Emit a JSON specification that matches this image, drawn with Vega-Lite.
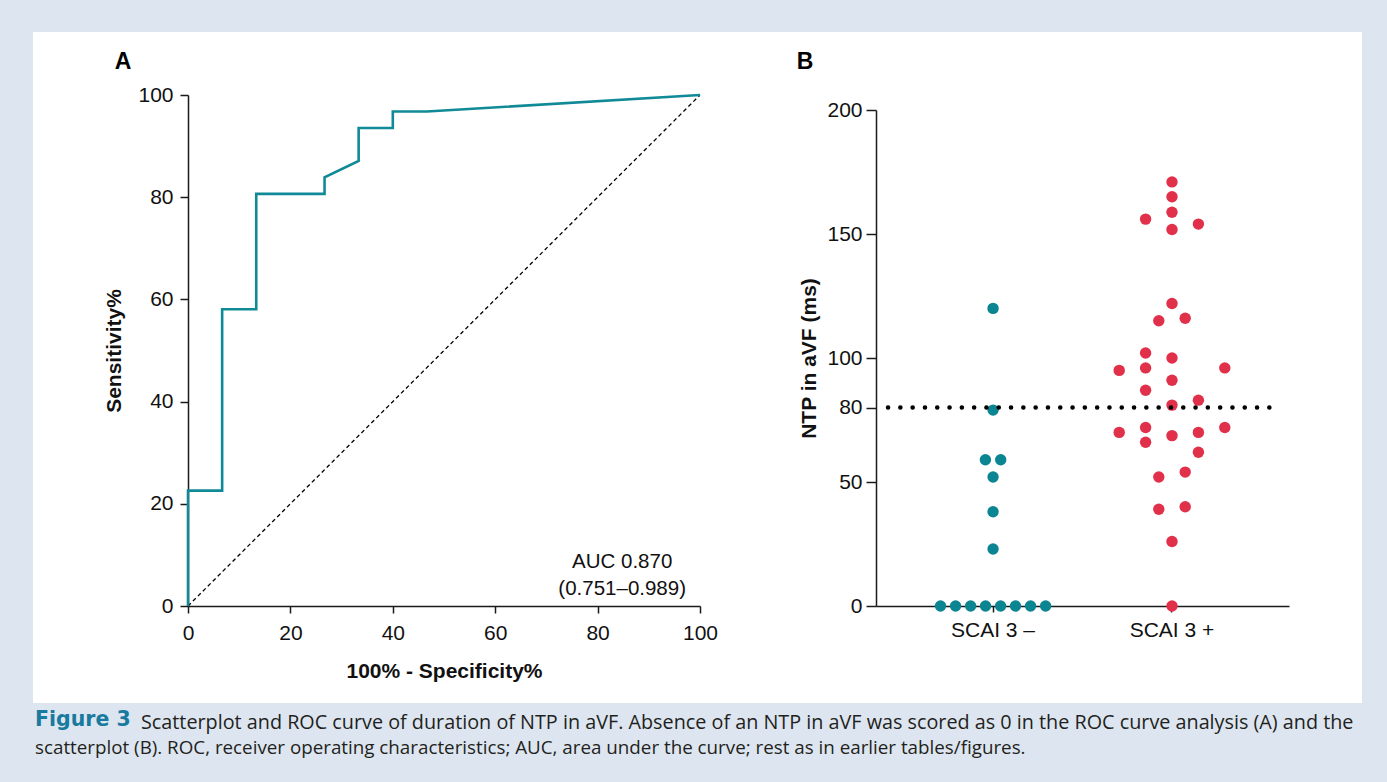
{
  "$schema": "https://vega.github.io/schema/vega-lite/v6.json",
  "background": "#dde6f0",
  "padding": {"left": 33, "top": 32, "right": 30, "bottom": 40},
  "config": {
    "view": {"stroke": null},
    "font": "Liberation Sans",
    "axis": {
      "grid": false,
      "domainColor": "#1a1a1a",
      "tickColor": "#1a1a1a",
      "domainWidth": 1.5,
      "tickWidth": 1.5,
      "labelColor": "#111111",
      "labelFont": "Liberation Sans",
      "labelFontSize": 21,
      "titleFont": "Liberation Sans",
      "titleFontSize": 21,
      "titleFontWeight": "bold",
      "titleColor": "#111111",
      "labelFlush": false,
      "labelOverlap": false
    }
  },
  "title": {
    "text": "Scatterplot and ROC curve of duration of NTP in aVF. Absence of an NTP in aVF was scored as 0 in the ROC curve analysis (A) and the",
    "orient": "bottom",
    "anchor": "start",
    "frame": "group",
    "font": "Open Sans",
    "fontSize": 19.8,
    "fontWeight": "normal",
    "color": "#231f20",
    "dx": 108,
    "dy": -44,
    "offset": 0
  },
  "vconcat": [
    {
      "width": 1329,
      "height": 671,
      "view": {"fill": "white", "stroke": null},
      "title": {
        "text": "Figure 3",
        "subtitle": "scatterplot (B). ROC, receiver operating characteristics; AUC, area under the curve; rest as in earlier tables/figures.",
        "orient": "bottom",
        "anchor": "start",
        "frame": "group",
        "font": "DejaVu Sans",
        "fontSize": 20.5,
        "fontWeight": "bold",
        "color": "#187a9e",
        "subtitleFont": "Open Sans",
        "subtitleFontSize": 18.8,
        "subtitleColor": "#231f20",
        "subtitlePadding": 8,
        "offset": 7,
        "dx": 2
      },
      "layer": [
        {
          "layer": [
            {
              "data": {"values": [{"fpr": 0, "tpr": 0}, {"fpr": 100, "tpr": 100}]},
              "mark": {"type": "line", "color": "#000000", "strokeWidth": 1.3, "strokeDash": [4, 3]},
              "encoding": {
                "x": {"field": "fpr", "type": "quantitative", "scale": {"domain": [0, 100], "range": [155, 667]},
                  "axis": {"orient": "bottom", "offset": -97, "values": [0, 20, 40, 60, 80, 100], "tickSize": 7, "labelPadding": 9, "title": "100% - Specificity%", "titlePadding": 17}},
                "y": {"field": "tpr", "type": "quantitative", "scale": {"domain": [0, 100], "range": [574, 63]},
                  "axis": {"orient": "left", "offset": -155, "values": [0, 20, 40, 60, 80, 100], "tickSize": 8, "labelPadding": 7, "title": "Sensitivity%", "titlePadding": 13}}
              }
            },
            {
              "data": {"values": [
                {"rank": 1, "fpr": 0, "tpr": 0},
                {"rank": 2, "fpr": 0, "tpr": 22.58},
                {"rank": 3, "fpr": 6.67, "tpr": 22.58},
                {"rank": 4, "fpr": 6.67, "tpr": 58.06},
                {"rank": 5, "fpr": 13.33, "tpr": 58.06},
                {"rank": 6, "fpr": 13.33, "tpr": 80.65},
                {"rank": 7, "fpr": 26.67, "tpr": 80.65},
                {"rank": 8, "fpr": 26.67, "tpr": 83.87},
                {"rank": 9, "fpr": 33.33, "tpr": 87.10},
                {"rank": 10, "fpr": 33.33, "tpr": 93.55},
                {"rank": 11, "fpr": 40, "tpr": 93.55},
                {"rank": 12, "fpr": 40, "tpr": 96.77},
                {"rank": 13, "fpr": 46.67, "tpr": 96.77},
                {"rank": 14, "fpr": 100, "tpr": 100}
              ]},
              "mark": {"type": "line", "color": "#118a97", "strokeWidth": 2.6},
              "encoding": {
                "x": {"field": "fpr", "type": "quantitative"},
                "y": {"field": "tpr", "type": "quantitative"},
                "order": {"field": "rank", "type": "quantitative"}
              }
            },
            {
              "data": {"values": [{"fpr": 84.8, "tpr": 8.7, "label": "AUC 0.870\n(0.751–0.989)"}]},
              "mark": {"type": "text", "fontSize": 20.5, "lineBreak": "\n", "lineHeight": 27, "align": "center", "baseline": "middle", "color": "#111111"},
              "encoding": {
                "x": {"field": "fpr", "type": "quantitative"},
                "y": {"field": "tpr", "type": "quantitative"},
                "text": {"field": "label"}
              }
            },
            {
              "data": {"values": [{"panel": "A", "fpr": -12.7, "tpr": 106.4}, {"panel": "B", "fpr": 120.5, "tpr": 106.4}]},
              "mark": {"type": "text", "fontSize": 23, "fontWeight": "bold", "align": "center", "baseline": "middle", "color": "#000000"},
              "encoding": {
                "x": {"field": "fpr", "type": "quantitative"},
                "y": {"field": "tpr", "type": "quantitative"},
                "text": {"field": "panel"}
              }
            }
          ]
        },
        {
          "data": {"values": [
            {"group": "SCAI 3 –", "ntp": 0, "swarm": -3.98},
            {"group": "SCAI 3 –", "ntp": 0, "swarm": -2.84},
            {"group": "SCAI 3 –", "ntp": 0, "swarm": -1.7},
            {"group": "SCAI 3 –", "ntp": 0, "swarm": -0.57},
            {"group": "SCAI 3 –", "ntp": 0, "swarm": 0.57},
            {"group": "SCAI 3 –", "ntp": 0, "swarm": 1.7},
            {"group": "SCAI 3 –", "ntp": 0, "swarm": 2.84},
            {"group": "SCAI 3 –", "ntp": 0, "swarm": 3.98},
            {"group": "SCAI 3 –", "ntp": 120, "swarm": 0},
            {"group": "SCAI 3 –", "ntp": 79, "swarm": 0},
            {"group": "SCAI 3 –", "ntp": 59, "swarm": -0.58},
            {"group": "SCAI 3 –", "ntp": 59, "swarm": 0.58},
            {"group": "SCAI 3 –", "ntp": 52, "swarm": 0},
            {"group": "SCAI 3 –", "ntp": 38, "swarm": 0},
            {"group": "SCAI 3 –", "ntp": 23, "swarm": 0},
            {"group": "SCAI 3 +", "ntp": 171, "swarm": 0},
            {"group": "SCAI 3 +", "ntp": 165, "swarm": 0},
            {"group": "SCAI 3 +", "ntp": 158.8, "swarm": 0},
            {"group": "SCAI 3 +", "ntp": 156, "swarm": -2},
            {"group": "SCAI 3 +", "ntp": 154, "swarm": 2},
            {"group": "SCAI 3 +", "ntp": 151.8, "swarm": 0},
            {"group": "SCAI 3 +", "ntp": 122, "swarm": 0},
            {"group": "SCAI 3 +", "ntp": 115, "swarm": -1},
            {"group": "SCAI 3 +", "ntp": 116, "swarm": 1},
            {"group": "SCAI 3 +", "ntp": 102, "swarm": -2},
            {"group": "SCAI 3 +", "ntp": 100, "swarm": 0},
            {"group": "SCAI 3 +", "ntp": 95, "swarm": -4},
            {"group": "SCAI 3 +", "ntp": 96, "swarm": -2},
            {"group": "SCAI 3 +", "ntp": 96, "swarm": 4},
            {"group": "SCAI 3 +", "ntp": 91, "swarm": 0},
            {"group": "SCAI 3 +", "ntp": 87, "swarm": -2},
            {"group": "SCAI 3 +", "ntp": 83, "swarm": 2},
            {"group": "SCAI 3 +", "ntp": 81, "swarm": 0},
            {"group": "SCAI 3 +", "ntp": 70, "swarm": -4},
            {"group": "SCAI 3 +", "ntp": 72, "swarm": -2},
            {"group": "SCAI 3 +", "ntp": 72, "swarm": 4},
            {"group": "SCAI 3 +", "ntp": 68.7, "swarm": 0},
            {"group": "SCAI 3 +", "ntp": 70, "swarm": 2},
            {"group": "SCAI 3 +", "ntp": 66, "swarm": -2},
            {"group": "SCAI 3 +", "ntp": 62, "swarm": 2},
            {"group": "SCAI 3 +", "ntp": 54, "swarm": 1},
            {"group": "SCAI 3 +", "ntp": 52, "swarm": -1},
            {"group": "SCAI 3 +", "ntp": 39, "swarm": -1},
            {"group": "SCAI 3 +", "ntp": 40, "swarm": 1},
            {"group": "SCAI 3 +", "ntp": 26, "swarm": 0},
            {"group": "SCAI 3 +", "ntp": 0, "swarm": 0}
          ]},
          "mark": {"type": "circle", "size": 130, "opacity": 1},
          "encoding": {
            "x": {"field": "group", "type": "nominal", "sort": ["SCAI 3 –", "SCAI 3 +"],
              "scale": {"type": "band", "range": [843, 1256], "paddingInner": 0, "paddingOuter": 0.154},
              "axis": {"orient": "bottom", "offset": -97, "title": null, "labelAngle": 0, "tickSize": 6, "labelPadding": 7}},
            "xOffset": {"field": "swarm", "type": "quantitative", "scale": {"domain": [-5, 5], "range": [23.5, 155.5]}},
            "y": {"field": "ntp", "type": "quantitative", "scale": {"domain": [0, 200], "range": [574, 78]},
              "axis": {"orient": "left", "offset": -843, "values": [0, 50, 80, 100, 150, 200], "title": "NTP in aVF (ms)", "tickSize": 10, "labelPadding": 4, "titlePadding": 7}},
            "color": {"field": "group", "type": "nominal", "scale": {"domain": ["SCAI 3 –", "SCAI 3 +"], "range": ["#0b8592", "#e1304a"]}, "legend": null}
          }
        },
        {
          "data": {"values": [{"cutoff": 80}]},
          "mark": {"type": "rule", "color": "#000000", "strokeWidth": 4.5, "strokeCap": "round", "strokeDash": [0.1, 12.2]},
          "encoding": {
            "x": {"datum": 0, "type": "quantitative", "scale": {"domain": [0, 1], "range": [855, 1246]}, "axis": null},
            "x2": {"datum": 1},
            "y": {"field": "cutoff", "type": "quantitative", "scale": {"domain": [0, 200], "range": [574, 78]}, "axis": null}
          }
        }
      ],
      "resolve": {"scale": {"x": "independent", "y": "independent"}}
    }
  ]
}
